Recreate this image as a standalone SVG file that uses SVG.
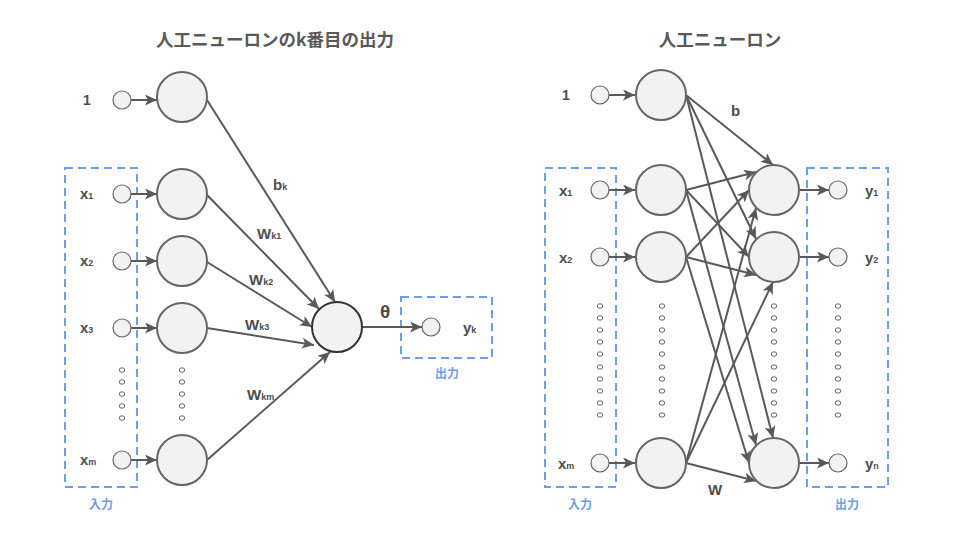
<svg xmlns="http://www.w3.org/2000/svg" width="960" height="540" viewBox="0 0 960 540">
<style>
.node{fill:#f2f2f2;stroke:#666;stroke-width:2}
.core{fill:#f2f2f2;stroke:#333;stroke-width:2}
.sm{fill:#f2f2f2;stroke:#666;stroke-width:1.2}
.dot{fill:#fff;stroke:#666;stroke-width:1}
.e{stroke:#595959;stroke-width:2;fill:none;marker-end:url(#ah)}
.box{fill:none;stroke:#6d9eeb;stroke-width:2;stroke-dasharray:8 5}
.lb{font-family:"Liberation Sans",Arial,sans-serif;font-weight:bold;fill:#4d4d4d;font-size:15px}
.big{font-size:14px}
.theta{font-size:19px}
.sub{font-size:9px}
.ttl{font-family:"Noto Sans CJK JP","Liberation Sans",sans-serif;font-weight:bold;fill:#595959;font-size:17.5px;text-anchor:middle}
.io{font-family:"Noto Sans CJK JP",sans-serif;font-weight:bold;fill:#6d9eeb;font-size:12px;text-anchor:middle}
</style>
<defs>
<marker id="ah" markerUnits="userSpaceOnUse" markerWidth="13" markerHeight="11" refX="12" refY="5.5" orient="auto">
<path d="M0,0 L12,5.5 L0,11 L3,5.5 Z" fill="#595959"/>
</marker>
</defs>
<rect width="960" height="540" fill="#fff"/>

<text class="ttl" x="275" y="46">人工ニューロンのk番目の出力</text>
<text class="ttl" x="720" y="46">人工ニューロン</text>

<!-- LEFT boxes -->
<g id="left-input-box">
<rect class="box" x="65" y="168" width="72" height="319"/>
<text class="io" x="101" y="509">入力</text>
</g>
<g id="left-output-box">
<rect class="box" x="401" y="297" width="91" height="61"/>
<text class="io" x="447" y="378">出力</text>
</g>

<!-- LEFT connectors -->
<g id="left-connectors">
<line class="e" x1="131" y1="100" x2="157" y2="100"/>
<line class="e" x1="131" y1="194" x2="157" y2="194"/>
<line class="e" x1="131" y1="261" x2="157" y2="261"/>
<line class="e" x1="131" y1="328" x2="157" y2="328"/>
<line class="e" x1="131" y1="460" x2="157" y2="460"/>
<line class="e" x1="207" y1="100" x2="335" y2="302"/>
<line class="e" x1="207" y1="195" x2="319" y2="309"/>
<line class="e" x1="207" y1="262" x2="312" y2="327"/>
<line class="e" x1="207" y1="328" x2="314" y2="345"/>
<line class="e" x1="207" y1="460" x2="330" y2="352"/>
<line class="e" x1="362" y1="327" x2="422" y2="327"/>
</g>

<!-- LEFT nodes -->
<g id="l-in-1"><circle class="sm" cx="122" cy="100" r="9"/><text class="lb big" x="83" y="105">1</text></g>
<g id="l-in-x1"><circle class="sm" cx="122" cy="194" r="9"/><text class="lb" x="80" y="199">x<tspan class="sub">1</tspan></text></g>
<g id="l-in-x2"><circle class="sm" cx="122" cy="261" r="9"/><text class="lb" x="80" y="266">x<tspan class="sub">2</tspan></text></g>
<g id="l-in-x3"><circle class="sm" cx="122" cy="328" r="9"/><text class="lb" x="80" y="333">x<tspan class="sub">3</tspan></text></g>
<g id="l-in-xm"><circle class="sm" cx="122" cy="460" r="9"/><text class="lb" x="80" y="465">x<tspan class="sub">m</tspan></text></g>
<g id="l-n-1"><circle class="node" cx="182" cy="97" r="25"/></g>
<g id="l-n-x1"><circle class="node" cx="182" cy="194" r="25"/></g>
<g id="l-n-x2"><circle class="node" cx="182" cy="261" r="25"/></g>
<g id="l-n-x3"><circle class="node" cx="182" cy="328" r="25"/></g>
<g id="l-n-xm"><circle class="node" cx="182" cy="460" r="25"/></g>
<g id="l-core"><circle class="core" cx="337" cy="327" r="25"/></g>
<g id="l-out-yk"><circle class="sm" cx="431" cy="327" r="9"/><text class="lb" x="463" y="333">y<tspan class="sub">k</tspan></text></g>

<g id="left-dots" class="dot">
<ellipse cx="122" cy="370" rx="2.8" ry="2.2"/><ellipse cx="122" cy="382" rx="2.8" ry="2.2"/><ellipse cx="122" cy="394" rx="2.8" ry="2.2"/><ellipse cx="122" cy="406" rx="2.8" ry="2.2"/><ellipse cx="122" cy="418" rx="2.8" ry="2.2"/>
<ellipse cx="182" cy="370" rx="2.8" ry="2.2"/><ellipse cx="182" cy="382" rx="2.8" ry="2.2"/><ellipse cx="182" cy="394" rx="2.8" ry="2.2"/><ellipse cx="182" cy="406" rx="2.8" ry="2.2"/><ellipse cx="182" cy="418" rx="2.8" ry="2.2"/>
</g>

<g id="left-labels">
<text class="lb" x="273" y="190">b<tspan class="sub">k</tspan></text>
<text class="lb" x="257" y="239">W<tspan class="sub">k1</tspan></text>
<text class="lb" x="249" y="285">W<tspan class="sub">k2</tspan></text>
<text class="lb" x="245" y="330">W<tspan class="sub">k3</tspan></text>
<text class="lb" x="247" y="400">W<tspan class="sub">km</tspan></text>
<text class="lb theta" x="380" y="318">θ</text>
</g>

<!-- RIGHT boxes -->
<g id="right-input-box">
<rect class="box" x="545" y="168" width="71" height="319"/>
<text class="io" x="580" y="509">入力</text>
</g>
<g id="right-output-box">
<rect class="box" x="807" y="168" width="81" height="319"/>
<text class="io" x="847" y="509">出力</text>
</g>

<!-- RIGHT connectors -->
<g id="right-connectors">
<line class="e" x1="609" y1="95" x2="635" y2="95"/>
<line class="e" x1="609" y1="190" x2="635" y2="190"/>
<line class="e" x1="609" y1="257" x2="635" y2="257"/>
<line class="e" x1="609" y1="463" x2="635" y2="463"/>
<line class="e" x1="686" y1="95" x2="773" y2="165"/>
<line class="e" x1="686" y1="190" x2="756" y2="172"/>
<line class="e" x1="686" y1="257" x2="749" y2="190"/>
<line class="e" x1="686" y1="463" x2="756" y2="208"/>
<line class="e" x1="686" y1="95" x2="756" y2="239"/>
<line class="e" x1="686" y1="190" x2="749" y2="257"/>
<line class="e" x1="686" y1="257" x2="756" y2="275"/>
<line class="e" x1="686" y1="463" x2="773" y2="282"/>
<line class="e" x1="686" y1="95" x2="773" y2="438"/>
<line class="e" x1="686" y1="190" x2="756" y2="445"/>
<line class="e" x1="686" y1="257" x2="749" y2="463"/>
<line class="e" x1="686" y1="463" x2="756" y2="481"/>
<line class="e" x1="799" y1="190" x2="829" y2="190"/>
<line class="e" x1="799" y1="257" x2="829" y2="257"/>
<line class="e" x1="799" y1="463" x2="829" y2="463"/>
</g>

<!-- RIGHT nodes -->
<g id="r-in-1"><circle class="sm" cx="600" cy="95" r="9"/><text class="lb big" x="562" y="100">1</text></g>
<g id="r-in-x1"><circle class="sm" cx="600" cy="190" r="9"/><text class="lb" x="559" y="196">x<tspan class="sub">1</tspan></text></g>
<g id="r-in-x2"><circle class="sm" cx="600" cy="257" r="9"/><text class="lb" x="559" y="263">x<tspan class="sub">2</tspan></text></g>
<g id="r-in-xm"><circle class="sm" cx="600" cy="463" r="9"/><text class="lb" x="558" y="469">x<tspan class="sub">m</tspan></text></g>
<g id="r-n-1"><circle class="node" cx="661" cy="95" r="25"/></g>
<g id="r-n-x1"><circle class="node" cx="661" cy="190" r="25"/></g>
<g id="r-n-x2"><circle class="node" cx="661" cy="257" r="25"/></g>
<g id="r-n-xm"><circle class="node" cx="661" cy="463" r="25"/></g>
<g id="r-o-1"><circle class="node" cx="774" cy="190" r="25"/></g>
<g id="r-o-2"><circle class="node" cx="774" cy="257" r="25"/></g>
<g id="r-o-n"><circle class="node" cx="774" cy="463" r="25"/></g>
<g id="r-out-y1"><circle class="sm" cx="838" cy="190" r="9"/><text class="lb" x="865" y="196">y<tspan class="sub">1</tspan></text></g>
<g id="r-out-y2"><circle class="sm" cx="838" cy="257" r="9"/><text class="lb" x="865" y="263">y<tspan class="sub">2</tspan></text></g>
<g id="r-out-yn"><circle class="sm" cx="838" cy="463" r="9"/><text class="lb" x="865" y="469">y<tspan class="sub">n</tspan></text></g>

<g id="right-dots" class="dot">
<g id="rd1">
<ellipse cx="600" cy="306" rx="2.8" ry="2.2"/><ellipse cx="600" cy="318" rx="2.8" ry="2.2"/><ellipse cx="600" cy="330" rx="2.8" ry="2.2"/><ellipse cx="600" cy="342" rx="2.8" ry="2.2"/><ellipse cx="600" cy="354" rx="2.8" ry="2.2"/><ellipse cx="600" cy="367" rx="2.8" ry="2.2"/><ellipse cx="600" cy="379" rx="2.8" ry="2.2"/><ellipse cx="600" cy="391" rx="2.8" ry="2.2"/><ellipse cx="600" cy="403" rx="2.8" ry="2.2"/><ellipse cx="600" cy="415" rx="2.8" ry="2.2"/>
</g>
<g id="rd2">
<ellipse cx="662" cy="306" rx="2.8" ry="2.2"/><ellipse cx="662" cy="318" rx="2.8" ry="2.2"/><ellipse cx="662" cy="330" rx="2.8" ry="2.2"/><ellipse cx="662" cy="342" rx="2.8" ry="2.2"/><ellipse cx="662" cy="354" rx="2.8" ry="2.2"/><ellipse cx="662" cy="367" rx="2.8" ry="2.2"/><ellipse cx="662" cy="379" rx="2.8" ry="2.2"/><ellipse cx="662" cy="391" rx="2.8" ry="2.2"/><ellipse cx="662" cy="403" rx="2.8" ry="2.2"/><ellipse cx="662" cy="415" rx="2.8" ry="2.2"/>
</g>
<g id="rd3">
<ellipse cx="774" cy="306" rx="2.8" ry="2.2"/><ellipse cx="774" cy="318" rx="2.8" ry="2.2"/><ellipse cx="774" cy="330" rx="2.8" ry="2.2"/><ellipse cx="774" cy="342" rx="2.8" ry="2.2"/><ellipse cx="774" cy="354" rx="2.8" ry="2.2"/><ellipse cx="774" cy="367" rx="2.8" ry="2.2"/><ellipse cx="774" cy="379" rx="2.8" ry="2.2"/><ellipse cx="774" cy="391" rx="2.8" ry="2.2"/><ellipse cx="774" cy="403" rx="2.8" ry="2.2"/><ellipse cx="774" cy="415" rx="2.8" ry="2.2"/>
</g>
<g id="rd4">
<ellipse cx="838" cy="306" rx="2.8" ry="2.2"/><ellipse cx="838" cy="318" rx="2.8" ry="2.2"/><ellipse cx="838" cy="330" rx="2.8" ry="2.2"/><ellipse cx="838" cy="342" rx="2.8" ry="2.2"/><ellipse cx="838" cy="354" rx="2.8" ry="2.2"/><ellipse cx="838" cy="367" rx="2.8" ry="2.2"/><ellipse cx="838" cy="379" rx="2.8" ry="2.2"/><ellipse cx="838" cy="391" rx="2.8" ry="2.2"/><ellipse cx="838" cy="403" rx="2.8" ry="2.2"/><ellipse cx="838" cy="415" rx="2.8" ry="2.2"/>
</g>
</g>

<g id="right-labels">
<text class="lb" x="731" y="116">b</text>
<text class="lb" x="708" y="495">W</text>
</g>
</svg>
